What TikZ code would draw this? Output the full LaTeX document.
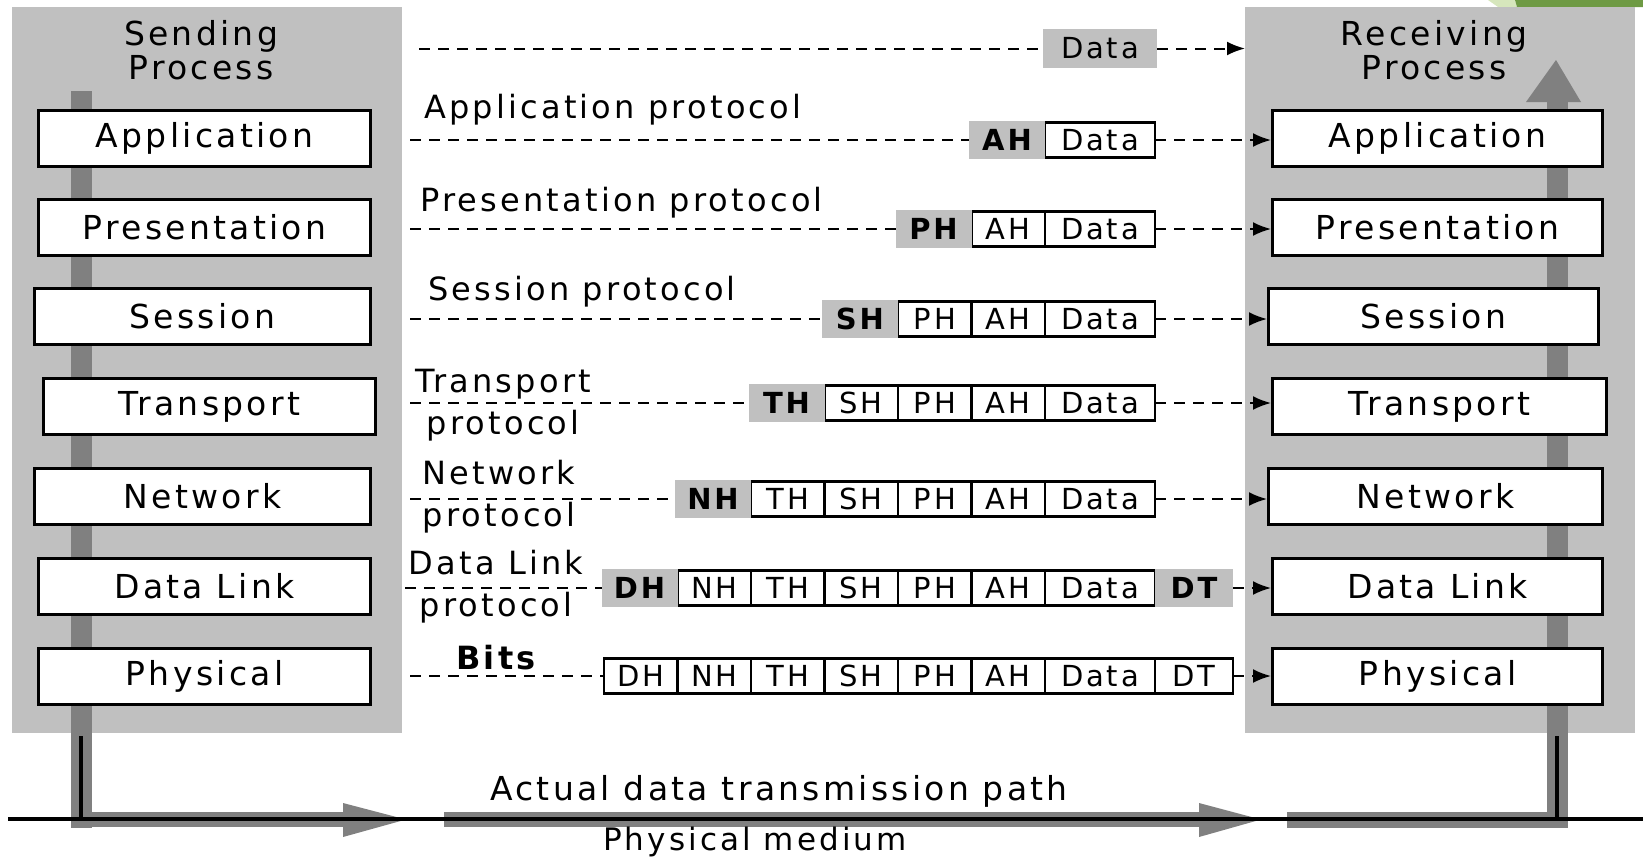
\documentclass[tikz,border=0pt]{standalone}
\usepackage{fontspec}
\setmainfont{DejaVu Sans}[LetterSpace=10]
\usetikzlibrary{positioning, arrows.meta}
\definecolor{lgray}{HTML}{C0C0C0}
\definecolor{dgray}{HTML}{808080}
\definecolor{lgreen}{HTML}{D6E6BC}
\definecolor{dgreen}{HTML}{6E9A44}

\begin{document}
\begin{tikzpicture}[x=1pt, y=-1pt,
    panel/.style = {fill=lgray, minimum width=390pt, minimum height=726pt,
                    anchor=north west, inner sep=0pt},
    layer/.style = {draw, line width=3pt, fill=white, minimum height=56pt,
                    inner sep=0pt, font=\fontsize{33}{36}\selectfont},
    cell/.style  = {draw, line width=2.5pt, fill=white, minimum width=73.5pt,
                    minimum height=35pt, inner sep=0pt, outer sep=0pt,
                    font=\fontsize{29}{30}\selectfont},
    hdr/.style   = {fill=lgray, minimum width=76pt, minimum height=38pt,
                    inner sep=0pt, outer sep=0pt,
                    font=\fontsize{29}{30}\selectfont\bfseries},
    lbl/.style   = {inner sep=0pt, font=\fontsize{32}{42}\selectfont},
    dline/.style = {line width=2pt, dash pattern=on 11pt off 8pt},
    darr/.style  = {dline, -{Latex[length=18pt, width=14pt]}}
  ]
  \useasboundingbox (0,0) rectangle (1643,857);

  \fill[lgreen] (1488,0) -- (1515,0) -- (1517,7) -- (1498,7) -- cycle;
  \fill[dgreen] (1515,0) -- (1643,0) -- (1643,7) -- (1517,7) -- cycle;

  \node[panel] (send) at (12,7)   {};
  \node[panel] (recv) at (1245,7) {};

  \fill[dgray] (71,91) rectangle (92,828);
  \fill[dgray] (71,812) rectangle (343,827);
  \fill[dgray] (343,803) -- (406,819.5) -- (343,837) -- cycle;
  \fill[dgray] (444,812) rectangle (1199,827);
  \fill[dgray] (1199,803) -- (1261,819.5) -- (1199,837) -- cycle;
  \fill[dgray] (1287,812) rectangle (1568,828);
  \fill[dgray] (1547,100) rectangle (1568,828);
  \fill[dgray] (1526,102) -- (1556,60) -- (1581,102) -- cycle;
  \draw[line width=4pt] (8,818.5) -- (1643,818.5);
  \draw[line width=4pt] (81,736) -- (81,818.5);
  \draw[line width=4pt] (1557,736) -- (1557,818.5);

  \node[lbl, align=center, font=\fontsize{33}{34}\selectfont] (stitle) at (201,50)  {Sending\\Process};
  \node[lbl, align=center, font=\fontsize{33}{34}\selectfont] (rtitle) at (1434,50) {Receiving\\Process};

  \node[layer, minimum width=332pt] (sApp)  at (204.5,138)   {Application};
  \node[layer, minimum width=332pt] (sPres) at (204.5,227.5) {Presentation};
  \node[layer, minimum width=336pt] (sSess) at (202.5,316)   {Session};
  \node[layer, minimum width=332pt] (sTran) at (209.5,406.5) {Transport};
  \node[layer, minimum width=336pt] (sNet)  at (202.5,496.5) {Network};
  \node[layer, minimum width=332pt] (sDL)   at (204.5,586.5) {Data Link};
  \node[layer, minimum width=332pt] (sPhy)  at (204.5,676.5) {Physical};

  \node[layer, minimum width=330pt] (rApp)  at (1437.5,138)   {Application};
  \node[layer, minimum width=330pt] (rPres) at (1437.5,227.5) {Presentation};
  \node[layer, minimum width=330pt] (rSess) at (1433.5,316)   {Session};
  \node[layer, minimum width=334pt] (rTran) at (1439.5,406.5) {Transport};
  \node[layer, minimum width=334pt] (rNet)  at (1435.5,496.5) {Network};
  \node[layer, minimum width=330pt] (rDL)   at (1437.5,586.5) {Data Link};
  \node[layer, minimum width=330pt] (rPhy)  at (1437.5,676.5) {Physical};

  \coordinate (s0) at (419,48.5);
  \node[hdr, font=\fontsize{29}{30}\selectfont, minimum width=114pt, minimum height=39pt] (p0d) at (1100,48.5) {Data};
  \draw[dline] (s0) -- (p0d.west);
  \draw[darr]  (p0d.east) -- (p0d.east -| recv.west);

  \node[lbl, anchor=west] (l1) at (424,110) {Application protocol};
  \coordinate (s1) at (410,140);
  \node[cell, minimum width=110pt] (p1d) at (1100,140) {Data};
  \node[hdr, left=0pt of p1d] (p1a) {AH};
  \draw[dline] (s1) -- (p1a.west);
  \draw[darr]  (p1d.east) -- (p1d.east -| rApp.west);

  \node[lbl, anchor=west] (l2) at (420,203) {Presentation protocol};
  \coordinate (s2) at (410,229);
  \node[cell, minimum width=110pt] (p2d) at (1100,229) {Data};
  \node[cell, left=0pt of p2d] (p2a) {AH};
  \node[hdr,  left=0pt of p2a] (p2p) {PH};
  \draw[dline] (s2) -- (p2p.west);
  \draw[darr]  (p2d.east) -- (p2d.east -| rPres.west);

  \node[lbl, anchor=west] (l3) at (428,292) {Session protocol};
  \coordinate (s3) at (410,319);
  \node[cell, minimum width=110pt] (p3d) at (1100,319) {Data};
  \node[cell, left=0pt of p3d] (p3a) {AH};
  \node[cell, left=0pt of p3a] (p3p) {PH};
  \node[hdr,  left=0pt of p3p] (p3s) {SH};
  \draw[dline] (s3) -- (p3s.west);
  \draw[darr]  (p3d.east) -- (p3d.east -| rSess.west);

  \node[lbl, align=center] (l4) at (503,405) {Transport\\protocol};
  \coordinate (s4) at (410,403);
  \node[cell, minimum width=110pt] (p4d) at (1100,403) {Data};
  \node[cell, left=0pt of p4d] (p4a) {AH};
  \node[cell, left=0pt of p4a] (p4p) {PH};
  \node[cell, left=0pt of p4p] (p4s) {SH};
  \node[hdr,  left=0pt of p4s] (p4t) {TH};
  \draw[dline] (s4) -- (p4t.west);
  \draw[darr]  (p4d.east) -- (p4d.east -| rTran.west);

  \node[lbl, align=center] (l5) at (499,497) {Network\\protocol};
  \coordinate (s5) at (410,499);
  \node[cell, minimum width=110pt] (p5d) at (1100,499) {Data};
  \node[cell, left=0pt of p5d] (p5a) {AH};
  \node[cell, left=0pt of p5a] (p5p) {PH};
  \node[cell, left=0pt of p5p] (p5s) {SH};
  \node[cell, left=0pt of p5s] (p5t) {TH};
  \node[hdr,  left=0pt of p5t] (p5n) {NH};
  \draw[dline] (s5) -- (p5n.west);
  \draw[darr]  (p5d.east) -- (p5d.east -| rNet.west);

  \node[lbl, align=center] (l6) at (496,587) {Data Link\\protocol};
  \coordinate (s6) at (405,588);
  \node[cell, minimum width=110pt] (p6d) at (1100,588) {Data};
  \node[cell, left=0pt of p6d]  (p6a) {AH};
  \node[cell, left=0pt of p6a]  (p6p) {PH};
  \node[cell, left=0pt of p6p]  (p6s) {SH};
  \node[cell, left=0pt of p6s]  (p6t) {TH};
  \node[cell, left=0pt of p6t]  (p6n) {NH};
  \node[hdr,  left=0pt of p6n]  (p6h) {DH};
  \node[hdr,  right=0pt of p6d, minimum width=78pt] (p6e) {DT};
  \draw[dline] (s6) -- (p6h.west);
  \draw[darr]  (p6e.east) -- (p6e.east -| rDL.west);

  \node[lbl, font=\fontsize{32}{38}\selectfont\bfseries] (l7) at (496,658) {Bits};
  \coordinate (s7) at (410,676);
  \node[cell, minimum width=110pt] (p7d) at (1100,676) {Data};
  \node[cell, left=0pt of p7d]  (p7a) {AH};
  \node[cell, left=0pt of p7a]  (p7p) {PH};
  \node[cell, left=0pt of p7p]  (p7s) {SH};
  \node[cell, left=0pt of p7s]  (p7t) {TH};
  \node[cell, left=0pt of p7t]  (p7n) {NH};
  \node[cell, left=0pt of p7n]  (p7h) {DH};
  \node[cell, right=0pt of p7d, minimum width=78pt] (p7e) {DT};
  \draw[dline] (s7) -- (p7h.west);
  \draw[darr]  (p7e.east) -- (p7e.east -| rPhy.west);

  \node[lbl, anchor=base west, font=\fontsize{33}{36}\selectfont] (path)   at (490,800) {Actual data transmission path};
  \node[lbl, anchor=base west, font=\fontsize{31}{36}\selectfont] (medium) at (603,850) {Physical medium};
\end{tikzpicture}
\end{document}
